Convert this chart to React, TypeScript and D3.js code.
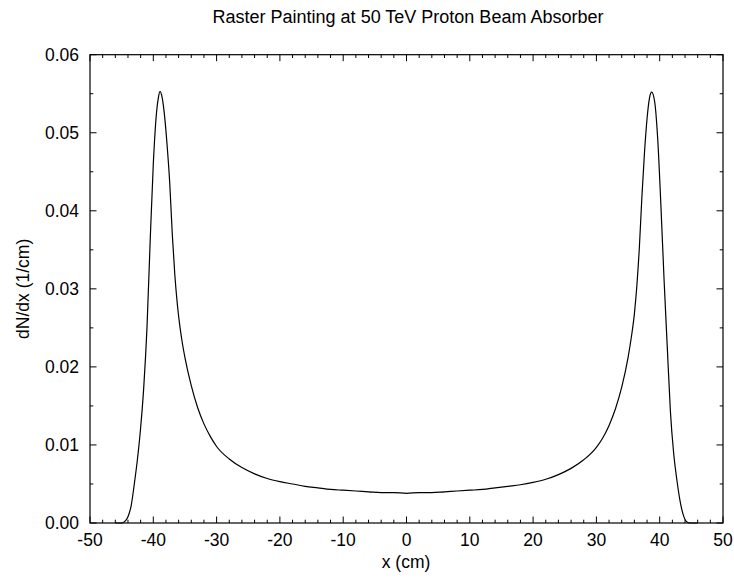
import React from "react";
import * as d3 from "d3";

const title = "Raster Painting at 50 TeV Proton Beam Absorber";
const xLabel = "x (cm)";
const yLabel = "dN/dx (1/cm)";

const xMajorTicks = [-50, -40, -30, -20, -10, 0, 10, 20, 30, 40, 50];
const yMajorTicks = [0, 0.01, 0.02, 0.03, 0.04, 0.05, 0.06];
const yTickLabels = ["0.00", "0.01", "0.02", "0.03", "0.04", "0.05", "0.06"];

const xValues = [
  -46, -45, -44.5, -44, -43.5, -43, -42.5, -42, -41.5, -41, -40.5, -40, -39.5, -39.2, -38.94,
  -38.6, -38.2, -37.8, -37.4, -37, -36.6, -36.2, -35.8, -35.4, -35, -34, -33, -32, -31, -30,
  -28, -26, -24, -22, -20, -18, -16, -14, -12, -10, -8, -6, -4, -2, 0,
  2, 4, 6, 8, 10, 12, 14, 16, 18, 20, 22, 24, 26, 28, 30, 31, 32, 33, 34, 35, 35.5, 36,
  36.4, 36.8, 37.2, 37.6, 38, 38.4, 38.73, 39.2, 39.7, 40.2, 40.7, 41.2, 41.7, 42.2, 42.7,
  43.2, 43.7, 44.2, 44.7, 46,
];
const yValues = [
  0, 0, 0.0002, 0.0008, 0.0022, 0.005, 0.0082, 0.0122, 0.0175, 0.025, 0.036, 0.046, 0.0525, 0.0545, 0.0553,
  0.0545, 0.052, 0.0482, 0.0435, 0.037, 0.0318, 0.028, 0.0252, 0.023, 0.0212, 0.0176, 0.0148, 0.0127, 0.0111, 0.0098,
  0.0082, 0.0071, 0.0063, 0.0057, 0.0053, 0.005, 0.0047, 0.0045, 0.0043, 0.0042, 0.0041, 0.004, 0.0039, 0.0039, 0.0038,
  0.0039, 0.0039, 0.004, 0.0041, 0.0042, 0.0043, 0.0045, 0.0047, 0.0049, 0.0052, 0.0056, 0.0062, 0.007, 0.0081, 0.0097, 0.0109, 0.0125, 0.0146, 0.0174, 0.0212, 0.0237, 0.0268,
  0.0305, 0.0355, 0.042, 0.0475, 0.0518, 0.0545, 0.0552, 0.054, 0.049, 0.0405, 0.031, 0.0225, 0.0142, 0.009, 0.0056,
  0.0029, 0.0011, 0.0002, 0, 0,
];

const W = 734;
const H = 579;
const left = 90;
const right = 723;
const top = 54.7;
const bottom = 523;
const font = "'Liberation Sans', Arial, Helvetica, sans-serif";

export default function App() {
  const x = d3.scaleLinear().domain([-50, 50]).range([left, right]);
  const y = d3.scaleLinear().domain([0, 0.06]).range([bottom, top]);
  const xMinor = d3.range(-50, 50.001, 2).filter((v) => Math.abs(v % 10) > 1e-6);
  const yMinor = d3.range(0.005, 0.06, 0.01);
  const pts = xValues.map((v, i) => [v, yValues[i]] as [number, number]);
  const line = d3
    .line<[number, number]>()
    .x((d) => x(d[0]))
    .y((d) => y(d[1]))
    .curve(d3.curveMonotoneX);
  const major = 6.5;
  const minor = 3.3;
  return (
    <svg
      width={W}
      height={H}
      style={{ position: "absolute", left: 0, top: 0, background: "#fff" }}
      fontFamily={font}
    >
      <rect x={0} y={0} width={W} height={H} fill="#fff" />
      <text x={408} y={23} fontSize={18} textAnchor="middle" fill="#000">
        {title}
      </text>
      <g stroke="#000" strokeWidth={1}>
        {xMajorTicks.map((t) => (
          <g key={"xm" + t}>
            <line x1={x(t)} x2={x(t)} y1={bottom} y2={bottom - major} />
            <line x1={x(t)} x2={x(t)} y1={top} y2={top + major} />
          </g>
        ))}
        {xMinor.map((t) => (
          <g key={"xn" + t}>
            <line x1={x(t)} x2={x(t)} y1={bottom} y2={bottom - minor} />
            <line x1={x(t)} x2={x(t)} y1={top} y2={top + minor} />
          </g>
        ))}
        {yMajorTicks.map((t) => (
          <g key={"ym" + t}>
            <line x1={left} x2={left + major} y1={y(t)} y2={y(t)} />
            <line x1={right} x2={right - major} y1={y(t)} y2={y(t)} />
          </g>
        ))}
        {yMinor.map((t) => (
          <g key={"yn" + t}>
            <line x1={left} x2={left + minor} y1={y(t)} y2={y(t)} />
            <line x1={right} x2={right - minor} y1={y(t)} y2={y(t)} />
          </g>
        ))}
      </g>
      <path d={line(pts) || ""} fill="none" stroke="#000" strokeWidth={1.2} />
      <rect
        x={left}
        y={top}
        width={right - left}
        height={bottom - top}
        fill="none"
        stroke="#000"
        strokeWidth={1.2}
      />
      <g fontSize={17.5} fill="#000">
        {xMajorTicks.map((t) => (
          <text key={"xl" + t} x={x(t)} y={546} textAnchor="middle">
            {String(t)}
          </text>
        ))}
        {yMajorTicks.map((t, i) => (
          <text key={"yl" + t} x={79} y={y(t) + 6.3} textAnchor="end">
            {yTickLabels[i]}
          </text>
        ))}
      </g>
      <text x={406} y={568} fontSize={17.5} textAnchor="middle" fill="#000">
        {xLabel}
      </text>
      <text
        transform={`translate(28.5, ${(top + bottom) / 2}) rotate(-90)`}
        fontSize={17.5}
        textAnchor="middle"
        fill="#000"
      >
        {yLabel}
      </text>
    </svg>
  );
}
